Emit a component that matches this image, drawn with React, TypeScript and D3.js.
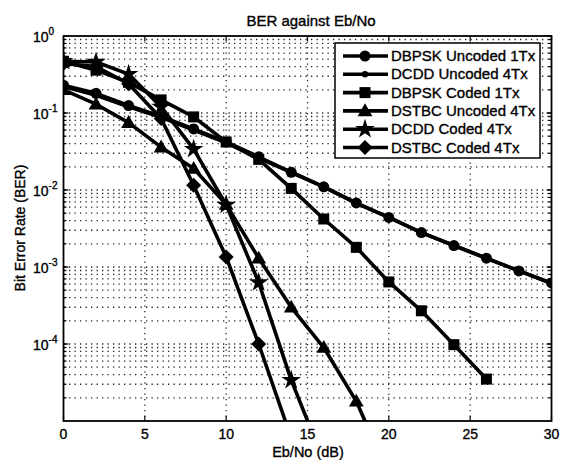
import React from 'react';
import * as d3 from 'd3';

// ---------------- data ----------------
const ebno = [0, 2, 4, 6, 8, 10, 12, 14, 16, 18, 20, 22, 24, 26, 28, 30];

const dbpskUncoded1Tx = [0.23, 0.18, 0.125, 0.09, 0.062, 0.042, 0.027, 0.017, 0.011, 0.0068, 0.0044, 0.0028, 0.0019, 0.0013, 0.00089, 0.00062];
const dcddUncoded4Tx = [0.22, 0.17, 0.12, 0.088, 0.06, 0.041, 0.026, 0.017, 0.011, 0.0067, 0.0044, 0.0028, 0.0019, 0.0013, 0.00089, 0.00061];
const dbpskCoded1Tx = [0.47, 0.36, 0.25, 0.148, 0.089, 0.042, 0.025, 0.0105, 0.0042, 0.0018, 0.00064, 0.00027, 0.000098, 0.000035];
const dstbcUncoded4Tx = [0.2, 0.13, 0.075, 0.036, 0.019, 0.0065, 0.0013, 0.0003, 0.00009, 0.000018, 0.000002];
const dcddCoded4Tx = [0.47, 0.46, 0.32, 0.12, 0.034, 0.0064, 0.00063, 0.000034, 0.000003];
const dstbcCoded4Tx = [0.44, 0.4, 0.24, 0.085, 0.0115, 0.00135, 0.0001, 0.000006];

const seriesNames = [
  'DBPSK Uncoded 1Tx',
  'DCDD Uncoded 4Tx',
  'DBPSK Coded 1Tx',
  'DSTBC Uncoded 4Tx',
  'DCDD Coded 4Tx',
  'DSTBC Coded 4Tx',
];
const seriesMarkers = ['circle', 'dot', 'square', 'triangle', 'star', 'diamond'];
const seriesValues = [dbpskUncoded1Tx, dcddUncoded4Tx, dbpskCoded1Tx, dstbcUncoded4Tx, dcddCoded4Tx, dstbcCoded4Tx];

const xTicks = [0, 5, 10, 15, 20, 25, 30];
const yExponents = [0, -1, -2, -3, -4];

const title = 'BER against Eb/No';
const xLabel = 'Eb/No (dB)';
const yLabel = 'Bit Error Rate (BER)';

// ---------------- layout ----------------
const W = 563;
const H = 460;
const L = 63.5;
const R = 551.5;
const T = 36;
const B = 421;
const FONT = '"Liberation Sans", Arial, Helvetica, sans-serif';

const x = d3.scaleLinear().domain([0, 30]).range([L, R]);
const y = d3.scaleLog().domain([1e-5, 1]).range([B, T]);

function Marker({ type, cx, cy }: { type: string; cx: number; cy: number }) {
  if (type === 'circle') return <circle cx={cx} cy={cy} r={5.5} fill="#000" />;
  if (type === 'dot') return <circle cx={cx} cy={cy} r={3.2} fill="#000" />;
  if (type === 'square') return <rect x={cx - 5.5} y={cy - 5.5} width={11} height={11} fill="#000" />;
  if (type === 'diamond') {
    const s = 7.5;
    return <path d={`M${cx},${cy - s}L${cx + s},${cy}L${cx},${cy + s}L${cx - s},${cy}Z`} fill="#000" />;
  }
  if (type === 'triangle') {
    const p = d3.symbol().type(d3.symbolTriangle).size(95)();
    return <path d={p || ''} transform={`translate(${cx},${cy + 1})`} fill="#000" />;
  }
  if (type === 'star') {
    const p = d3.symbol().type(d3.symbolStar).size(120)();
    return <path d={p || ''} transform={`translate(${cx},${cy})`} fill="#000" />;
  }
  return null;
}

export default function App() {
  const line = d3
    .line<[number, number]>()
    .x((d) => x(d[0]))
    .y((d) => y(d[1]));

  const minorY: number[] = [];
  for (let e = -5; e < 0; e++) {
    for (let k = 1; k <= 9; k++) {
      const v = k * Math.pow(10, e);
      if (v > 1e-5 && v < 1) minorY.push(v);
    }
  }

  const legendX = 335;
  const legendY = 43;
  const legendW = 205;
  const legendH = 115;
  const rowY = (i: number) => 56 + i * 18.3;
  const txtStroke = { stroke: '#000', strokeWidth: 0.35 };

  return (
    <svg width={W} height={H} style={{ position: 'absolute', left: 0, top: 0, background: '#fff' }} fontFamily={FONT}>
      <rect x={0} y={0} width={W} height={H} fill="#fff" />
      <defs>
        <clipPath id="plotClip">
          <rect x={L} y={T} width={R - L} height={B - T} />
        </clipPath>
      </defs>

      {/* grid */}
      <g stroke="#000" strokeWidth={1.3} strokeDasharray="1.3,4.2" fill="none" opacity={0.85}>
        {minorY.map((v, i) => (
          <line key={'gy' + i} x1={L} x2={R} y1={y(v)} y2={y(v)} />
        ))}
        {xTicks.slice(1, -1).map((v) => (
          <line key={'gx' + v} x1={x(v)} x2={x(v)} y1={T} y2={B} />
        ))}
      </g>

      {/* ticks */}
      <g stroke="#000" strokeWidth={1.2}>
        {xTicks.map((v) => (
          <g key={'tx' + v}>
            <line x1={x(v)} x2={x(v)} y1={B} y2={B - 5} />
            <line x1={x(v)} x2={x(v)} y1={T} y2={T + 5} />
          </g>
        ))}
        {yExponents.map((e) => (
          <g key={'ty' + e}>
            <line x1={L} x2={L + 5} y1={y(Math.pow(10, e))} y2={y(Math.pow(10, e))} />
            <line x1={R} x2={R - 5} y1={y(Math.pow(10, e))} y2={y(Math.pow(10, e))} />
          </g>
        ))}
        {minorY.map((v, i) => (
          <g key={'tm' + i}>
            <line x1={L} x2={L + 3} y1={y(v)} y2={y(v)} />
            <line x1={R} x2={R - 3} y1={y(v)} y2={y(v)} />
          </g>
        ))}
      </g>

      {/* series */}
      <g clipPath="url(#plotClip)">
        {seriesValues.map((vals, si) => {
          const pts: [number, number][] = vals.map((v, i) => [ebno[i], v]);
          return (
            <path key={'l' + si} d={line(pts) || ''} fill="none" stroke="#000" strokeWidth={3.6} strokeLinejoin="round" />
          );
        })}
        {seriesValues.map((vals, si) => (
          <g key={'m' + si}>
            {vals.map((v, i) =>
              v >= 1e-5 ? <Marker key={i} type={seriesMarkers[si]} cx={x(ebno[i])} cy={y(v)} /> : null
            )}
          </g>
        ))}
      </g>

      {/* axes box */}
      <rect x={L} y={T} width={R - L} height={B - T} fill="none" stroke="#000" strokeWidth={1.8} />

      {/* tick labels */}
      <g fontSize={14} fill="#000" {...txtStroke}>
        {xTicks.map((v) => (
          <text key={'xl' + v} x={x(v)} y={439} textAnchor="middle">
            {v}
          </text>
        ))}
        {yExponents.map((e) => (
          <text key={'yl' + e} x={33} y={y(Math.pow(10, e)) + 5.5}>
            10
            <tspan dy={-6.5} fontSize={10}>
              {e === 0 ? '0' : '-' + Math.abs(e)}
            </tspan>
          </text>
        ))}
      </g>

      {/* titles */}
      <text x={311} y={26} textAnchor="middle" fontSize={15} {...txtStroke}>
        {title}
      </text>
      <text x={308} y={456.5} textAnchor="middle" fontSize={14.5} {...txtStroke}>
        {xLabel}
      </text>
      <text transform={`translate(25,228) rotate(-90)`} textAnchor="middle" fontSize={14} {...txtStroke}>
        {yLabel}
      </text>

      {/* legend */}
      <rect x={legendX} y={legendY} width={legendW} height={legendH} fill="#fff" stroke="#000" strokeWidth={1.5} />
      {seriesNames.map((name, i) => (
        <g key={'lg' + i}>
          <line x1={343} x2={388} y1={rowY(i)} y2={rowY(i)} stroke="#000" strokeWidth={3.6} />
          <Marker type={seriesMarkers[i]} cx={365} cy={rowY(i)} />
          <text x={391} y={rowY(i) + 5} fontSize={15} {...txtStroke}>
            {name}
          </text>
        </g>
      ))}
    </svg>
  );
}
